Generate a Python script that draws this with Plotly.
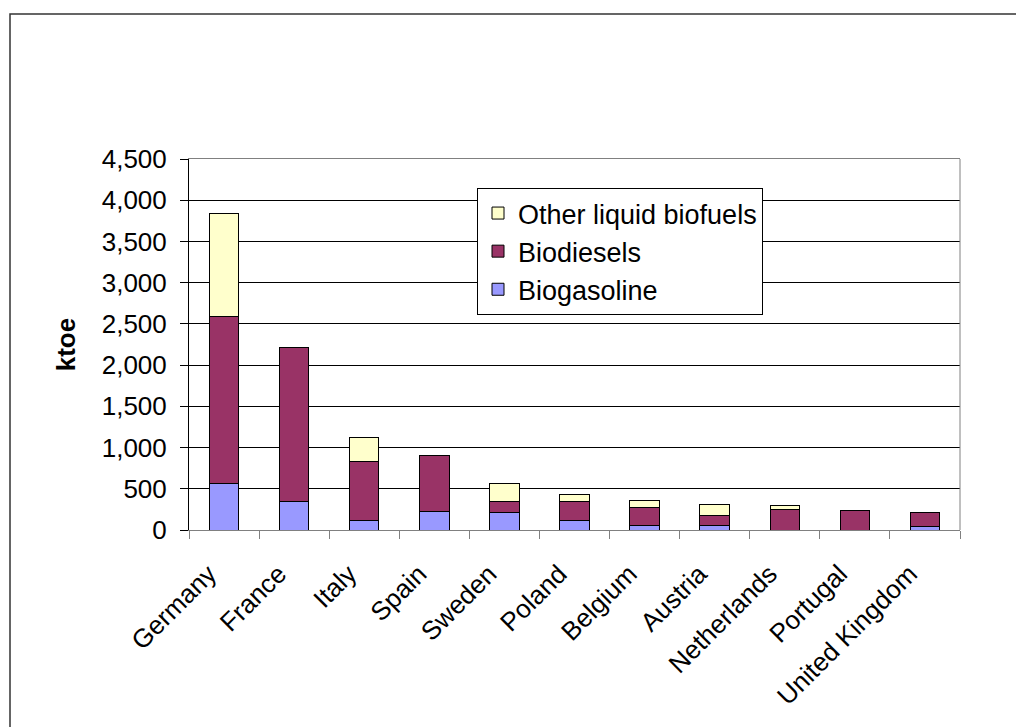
import plotly.graph_objects as go

countries = ["Germany", "France", "Italy", "Spain", "Sweden", "Poland",
             "Belgium", "Austria", "Netherlands", "Portugal", "United Kingdom"]
biogasoline = [560, 350, 120, 230, 210, 110, 50, 60, 0, 0, 45]
biodiesels = [2025, 1865, 710, 670, 140, 240, 220, 110, 245, 235, 165]
other_liquid = [1250, 0, 295, 0, 215, 80, 90, 140, 50, 0, 0]

FONT = "Liberation Sans, Arial, sans-serif"

fig = go.Figure()
series = [
    ("Biogasoline", biogasoline, "#9999FF"),
    ("Biodiesels", biodiesels, "#993366"),
    ("Other liquid biofuels", other_liquid, "#FFFFCC"),
]
for i, (name, vals, col) in enumerate(series):
    fig.add_trace(go.Bar(
        x=countries, y=vals, name=name, legendgroup=f"g{i}",
        marker=dict(color=col, line=dict(color="#000000", width=1)),
    ))

# page offset of the figure inside the HTML body (default body margin)
OFF = 8
W, H = 1024, 727
# target plot area in page pixels
PL, PR, PT, PB = 189, 960, 159, 530
L = PL - OFF
T = PT - OFF
R = W + OFF - PR
B = H + OFF - PB
pw = PR - PL
ph = PB - PT

def px_x(px):
    return (px - PL) / pw

def px_y(py):
    return (PB - py) / ph

pad = "\u00a0\u00a0\u00a0"

fig.update_layout(
    width=W, height=H,
    margin=dict(l=L, r=R, t=T, b=B, autoexpand=False),
    paper_bgcolor="white", plot_bgcolor="white",
    barmode="stack", bargap=0.58,
    font=dict(family=FONT, color="#000000", size=26),
    showlegend=True,
    legend=dict(
        x=px_x(477), y=px_y(188), xanchor="left", yanchor="top",
        bgcolor="white", bordercolor="#000000", borderwidth=1,
        font=dict(size=27, family=FONT), traceorder="reversed",
        tracegroupgap=6,
    ),
    xaxis=dict(
        showline=True, linecolor="#808080", linewidth=1, mirror=True,
        ticks="outside", ticklen=8, tickcolor="#808080", tickson="boundaries",
        tickangle=-45, tickfont=dict(size=26, family=FONT),
        tickvals=countries, ticktext=[c + pad for c in countries],
        ticklabelstandoff=2,
        showgrid=False, fixedrange=True,
    ),
    yaxis=dict(
        range=[0, 4500], dtick=500, tickformat=",",
        showline=True, linecolor="#000000", linewidth=1,
        ticks="outside", ticklen=8, tickcolor="#000000",
        ticklabelstandoff=8,
        showgrid=True, gridcolor="#000000", gridwidth=1,
        zeroline=False,
        tickfont=dict(size=26, family=FONT),
        title=dict(text="<b>ktoe</b>", font=dict(size=26, family=FONT), standoff=18),
    ),
    shapes=[
        dict(type="line", xref="paper", yref="paper", x0=1, x1=1, y0=0, y1=1,
             line=dict(color="#808080", width=1)),
        dict(type="rect", xref="paper", yref="paper",
             x0=px_x(10), x1=px_x(1040), y0=px_y(14), y1=px_y(760),
             line=dict(color="#333333", width=1.5), layer="below"),
    ],
)

fig.write_html("out.html")
